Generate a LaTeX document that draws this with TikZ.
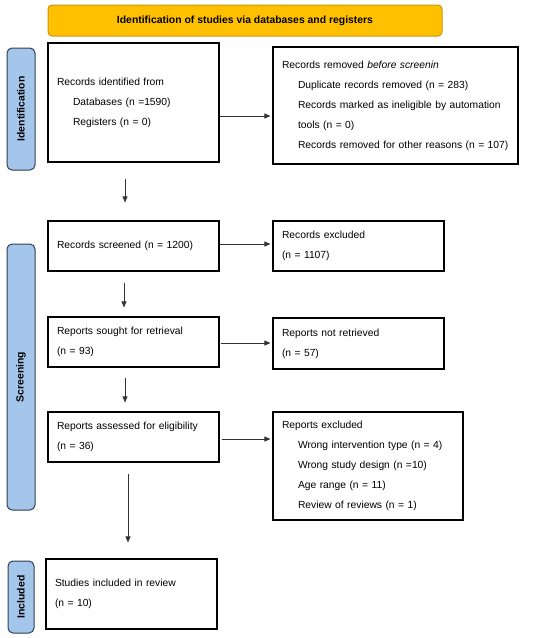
\documentclass[tikz,border=0pt]{standalone}
\usepackage{fontspec}
\setmainfont{Liberation Sans}
\usetikzlibrary{arrows.meta}
\definecolor{bannerfill}{HTML}{FFC000}
\definecolor{bannerdraw}{HTML}{C8960A}
\definecolor{sidefill}{HTML}{A4C6EA}
\definecolor{sidedraw}{HTML}{2F3F55}
\definecolor{linecol}{HTML}{333333}
\tikzset{
  x=1pt, y=-1pt,
  every node/.style={font=\fontsize{10.3}{20}\selectfont},
  box/.style={draw=black, line width=1.1pt, inner xsep=9pt, inner ysep=0pt, align=left},
  banner/.style={draw=bannerdraw, fill=bannerfill, line width=1pt, rounded corners=4pt,
    font=\fontsize{10.4}{12}\selectfont\bfseries},
  side/.style={draw=sidedraw, fill=sidefill, line width=1pt, rounded corners=5pt, rotate=90,
    font=\fontsize{10.4}{12}\selectfont\bfseries, inner sep=0pt},
  arr/.style={draw=linecol, line width=0.8pt, -{Triangle[length=6pt,width=5pt]}}
}
\newcommand{\ind}{\hspace*{16pt}}
\begin{document}
\begin{tikzpicture}
\useasboundingbox (0,0) rectangle (550,638);
% banner
\node[banner, minimum width=394pt, minimum height=31pt] (ban) at (245,20.5)
  {Identification of studies via databases and registers};
% side labels
\node[side, minimum width=122pt, minimum height=28pt] (sid) at (21,109) {Identification};
\node[side, minimum width=266pt, minimum height=28pt] (ssc) at (21,377) {Screening};
\node[side, minimum width=72pt, minimum height=26pt] (sin) at (21,597) {Included};
% boxes
\node[box, text width=153pt, minimum height=119pt] (b1) at (133.5,102.5)
  {Records identified from\\
   \ind Databases (n =1590)\\
   \ind Registers (n = 0)};
\node[box, text width=227pt, minimum height=117pt] (r1) at (395.5,105.5)
  {Records removed \textit{before screenin}\\
   \ind Duplicate records removed (n = 283)\\
   \ind\makebox[210pt][s]{Records marked as ineligible by automation}\\
   \ind tools (n = 0)\\
   \ind Records removed for other reasons (n = 107)};
\node[box, text width=153pt, minimum height=50pt] (scr) at (133.5,246)
  {Records screened (n = 1200)};
\node[box, text width=153pt, minimum height=50pt] (exc) at (358.5,246)
  {Records excluded\\(n = 1107)};
\node[box, text width=153pt, minimum height=50pt] (sou) at (133.5,342)
  {Reports sought for retrieval\\(n = 93)};
\node[box, text width=153pt, minimum height=51pt] (nre) at (358.5,343.5)
  {Reports not retrieved\\(n = 57)};
\node[box, text width=153pt, minimum height=50pt] (ass) at (133.5,437)
  {Reports assessed for eligibility\\(n = 36)};
\node[box, text width=172pt, minimum height=108pt] (rex) at (368,466)
  {Reports excluded\\
   \ind Wrong intervention type (n = 4)\\
   \ind Wrong study design (n =10)\\
   \ind Age range (n = 11)\\
   \ind Review of reviews (n = 1)};
\node[box, text width=153pt, minimum height=70pt] (inc) at (131.5,594)
  {Studies included in review\\(n = 10)};
% horizontal arrows
\coordinate (h1) at (0,116);
\coordinate (h2) at (0,244);
\coordinate (h3) at (0,343);
\coordinate (h4) at (0,439);
\draw[arr] (b1.east |- h1) -- ([xshift=-2pt]r1.west |- h1);
\draw[arr] (scr.east |- h2) -- ([xshift=-2pt]exc.west |- h2);
\draw[arr] ([xshift=1pt]sou.east |- h3) -- ([xshift=-2pt]nre.west |- h3);
\draw[arr] ([xshift=2pt]ass.east |- h4) -- ([xshift=-2pt]rex.west |- h4);
% vertical arrows
\draw[arr] ([shift={(-8.5,16)}]b1.south) -- ([shift={(-8.5,-18)}]scr.north);
\draw[arr] ([shift={(-9.5,11)}]scr.south) -- ([shift={(-9.5,-9)}]sou.north);
\draw[arr] ([shift={(-8.5,10)}]sou.south) -- ([shift={(-8.5,-9)}]ass.north);
\draw[arr] ([shift={(-5.5,11)}]ass.south) -- ([shift={(-3.5,-16)}]inc.north);
\end{tikzpicture}
\end{document}
